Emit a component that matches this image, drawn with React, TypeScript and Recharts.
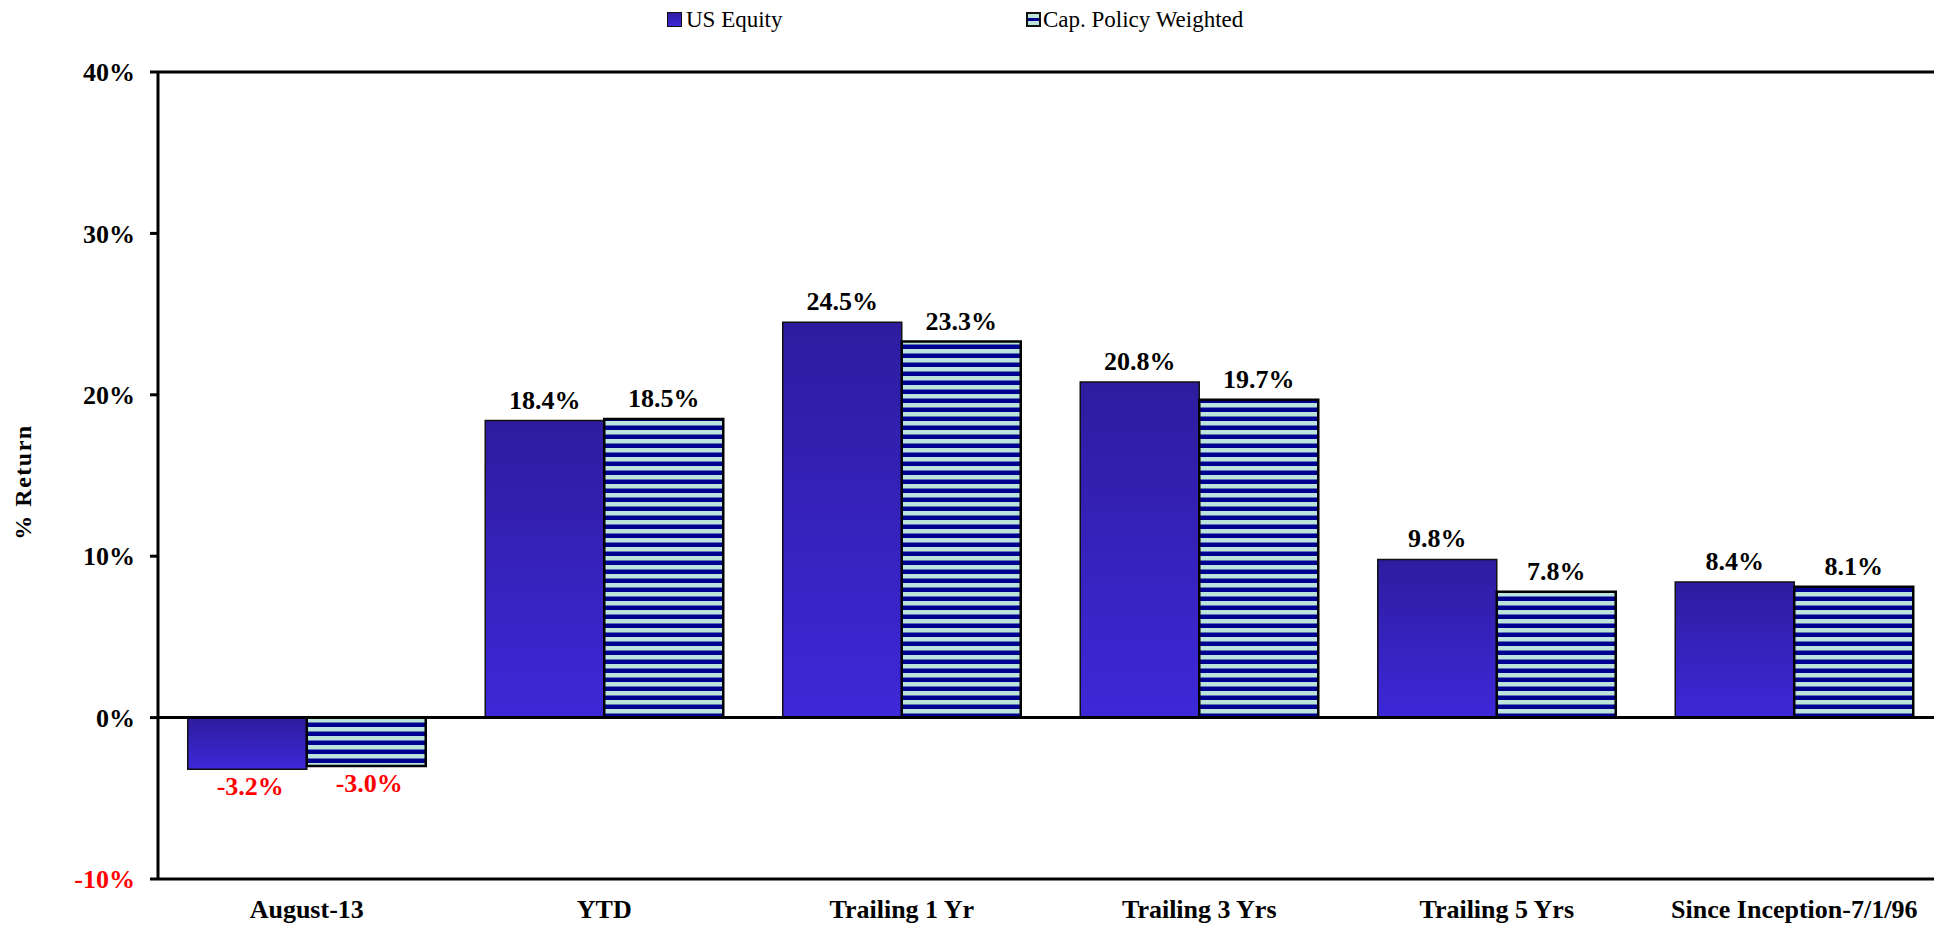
import { BarChart, Bar, XAxis, YAxis, ReferenceLine, LabelList, Legend } from "recharts";

const categories = ["August-13", "YTD", "Trailing 1 Yr", "Trailing 3 Yrs", "Trailing 5 Yrs", "Since Inception-7/1/96"];
const usEquity = [-3.2, 18.4, 24.5, 20.8, 9.8, 8.4];
const capPolicy = [-3.0, 18.5, 23.3, 19.7, 7.8, 8.1];
const yTicks = [-10, 0, 10, 20, 30, 40];

const data = categories.map((name, i) => ({ name, usEquity: usEquity[i], capPolicy: capPolicy[i] }));

const FONT = '"Liberation Serif", "Times New Roman", serif';

function ValueLabel(props: any) {
  const { x, y, width, height, value } = props;
  const cx = x + width / 2;
  if (value < 0) {
    const bottom = y + height;
    return (
      <text x={cx + 3} y={Math.max(y, bottom) + 26} textAnchor="middle" fill="#ff0000" fontSize={26} fontWeight="bold" fontFamily={FONT}>
        {value.toFixed(1)}%
      </text>
    );
  }
  return (
    <text x={cx} y={Math.min(y, y + height) - 12} textAnchor="middle" fill="#000" fontSize={26} fontWeight="bold" fontFamily={FONT}>
      {value.toFixed(1)}%
    </text>
  );
}

function YTick(props: any) {
  const { x, y, payload } = props;
  return (
    <text x={x} y={y} dy="0.35em" textAnchor="end" fill={payload.value < 0 ? "#ff0000" : "#000"} fontSize={26} fontWeight="bold" fontFamily={FONT}>
      {payload.value}%
    </text>
  );
}

function LegendBox() {
  return (
    <div style={{ position: "relative", height: 40, fontFamily: FONT, fontSize: 23, lineHeight: "26px", color: "#000" }}>
      <div style={{ position: "absolute", left: 667, top: 12, width: 13, height: 13, border: "1px solid #111", background: "linear-gradient(#2e1c9f, #3d28d8)" }} />
      <span style={{ position: "absolute", left: 686, top: 7, whiteSpace: "nowrap" }}>US Equity</span>
      <div style={{ position: "absolute", left: 1026, top: 12, width: 11, height: 11, border: "2px solid #111", background: "linear-gradient(#bde4dc 0 35%, #000090 35% 65%, #bde4dc 65%)" }} />
      <span style={{ position: "absolute", left: 1043, top: 7, whiteSpace: "nowrap" }}>Cap. Policy Weighted</span>
    </div>
  );
}

function AxisTitle() {
  return (
    <text x={23} y={482} transform="rotate(-90 23 482)" textAnchor="middle" dominantBaseline="central" fontSize={24} fontWeight="bold" letterSpacing={1.5} fontFamily={FONT} fill="#000">
      % Return
    </text>
  );
}

export default function App() {
  return (
    <div style={{ position: "absolute", left: 0, top: 0, width: 1934, height: 925, overflow: "hidden", background: "#fff" }}>
      <BarChart
        width={1943}
        height={925}
        data={data}
        margin={{ top: 32, right: 0, bottom: 0, left: 0 }}
        barCategoryGap="10%"
        barGap={0}
        style={{ fontFamily: FONT }}
      >
        <defs>
          <linearGradient id="usGrad" x1="0" y1="0" x2="0" y2="1">
            <stop offset="0%" stopColor="#2e1c9f" />
            <stop offset="100%" stopColor="#3d28d8" />
          </linearGradient>
          <pattern id="stripes" patternUnits="userSpaceOnUse" width={10} height={9} y={718}>
            <rect x={0} y={0} width={10} height={9} fill="#bde4dc" />
            <rect x={0} y={4.5} width={10} height={4.5} fill="#000090" />
          </pattern>
        </defs>
        <Legend verticalAlign="top" align="left" height={40} wrapperStyle={{ top: 0, left: 0, width: 1934, height: 40 }} content={() => <LegendBox />} />
        <XAxis
          dataKey="name"
          interval={0}
          axisLine={{ stroke: "#000", strokeWidth: 3 }}
          tickLine={false}
          tickSize={0}
          tickMargin={21}
          height={46}
          tick={{ fill: "#000", fontSize: 26, fontWeight: "bold", fontFamily: FONT }}
        />
        <YAxis
          domain={[-10, 40]}
          ticks={yTicks}
          width={158}
          axisLine={{ stroke: "#000", strokeWidth: 3 }}
          tickLine={{ stroke: "#000", strokeWidth: 3 }}
          tickSize={8}
          tickMargin={15}
          tick={<YTick />}
          label={<AxisTitle />}
        />
        <ReferenceLine y={40} stroke="#000" strokeWidth={3} />
        <Bar dataKey="usEquity" fill="url(#usGrad)" stroke="#111" strokeWidth={1.5} isAnimationActive={false}>
          <LabelList dataKey="usEquity" content={<ValueLabel />} />
        </Bar>
        <Bar dataKey="capPolicy" fill="url(#stripes)" stroke="#000" strokeWidth={2.5} isAnimationActive={false}>
          <LabelList dataKey="capPolicy" content={<ValueLabel />} />
        </Bar>
        <ReferenceLine y={0} stroke="#000" strokeWidth={3} />
      </BarChart>
    </div>
  );
}
